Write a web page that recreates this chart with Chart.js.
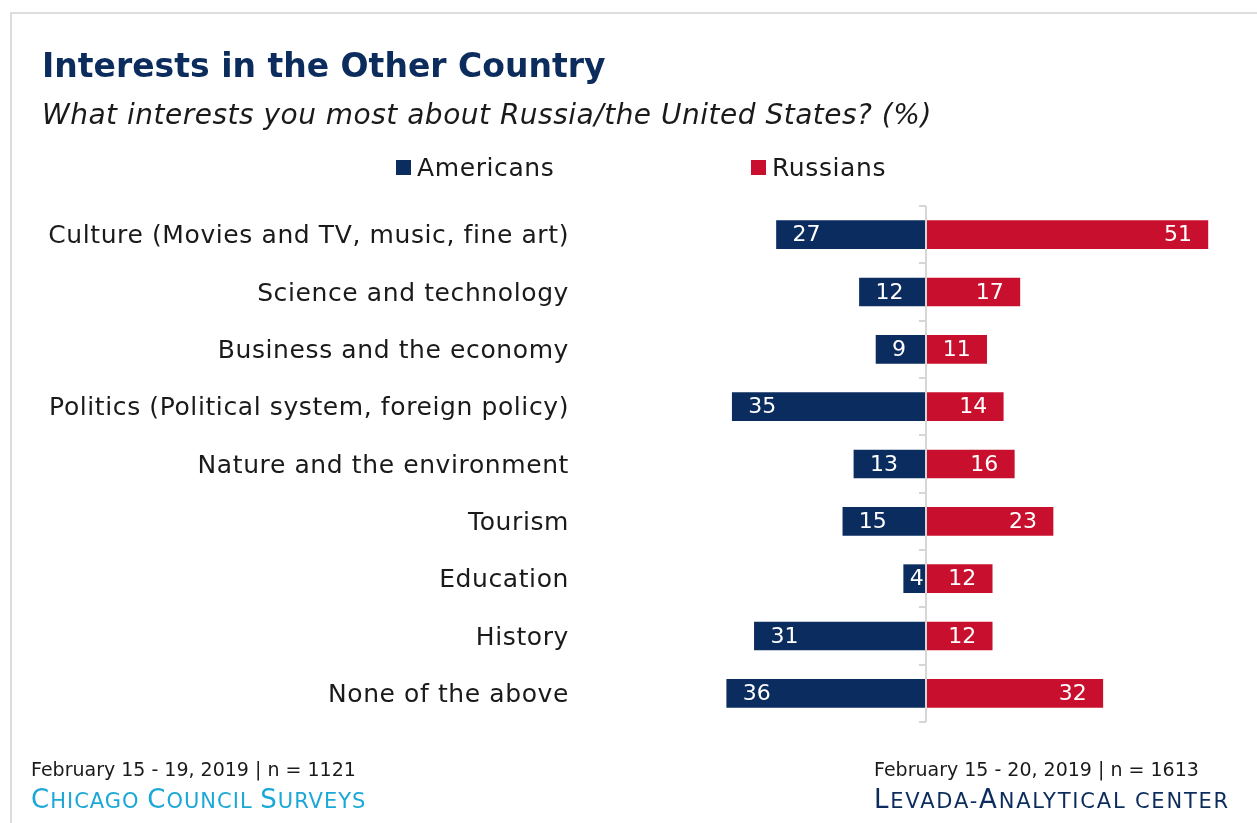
<!DOCTYPE html>
<html>
<head>
<meta charset="utf-8">
<script src="https://cdn.jsdelivr.net/npm/chart.js@4.4.1/dist/chart.umd.min.js"></script>
<style>
  html, body { margin: 0; padding: 0; background: #fff; }
  body { width: 1257px; height: 823px; position: relative; overflow: hidden; font-family: "DejaVu Sans", sans-serif; }
  #frame { position: absolute; left: 10px; top: 12px; width: 1260px; height: 820px; border-top: 2px solid #dddddd; border-left: 2px solid #dddddd; }
  #chartWrap { position: absolute; left: 0; top: 0; width: 1257px; height: 823px; }
  .txt { position: absolute; white-space: nowrap; line-height: 1; }
  #title { left: 42px; top: 49px; font-size: 33px; font-weight: bold; color: #0b2c5c; }
  #subtitle { left: 42px; top: 101px; font-size: 28px; font-style: italic; letter-spacing: 0.5px; color: #1a1a1a; }
  .legend { top: 155px; font-size: 25px; letter-spacing: 0.6px; color: #1a1a1a; }
  .legend i { display: inline-block; width: 15px; height: 15px; margin-right: 6px; vertical-align: 1px; }
  .date { top: 760px; font-size: 19px; color: #1a1a1a; }
  .src { top: 786px; font-size: 26px; letter-spacing: 1px; }
  .src span { font-size: 21px; }
</style>
</head>
<body>
<div id="frame"></div>
<div id="chartWrap"><canvas id="interestChart"></canvas></div>
<div class="txt" id="title">Interests in the Other Country</div>
<div class="txt" id="subtitle">What interests you most about Russia/the United States? (%)</div>
<div class="txt legend" style="left:396px"><i style="background:#0a2c5e"></i>Americans</div>
<div class="txt legend" style="left:751px"><i style="background:#c8102e"></i>Russians</div>
<div class="txt date" style="left:31px">February 15 - 19, 2019 | n = 1121</div>
<div class="txt src" style="left:31px; color:#1aa8d8">C<span>HICAGO </span>C<span>OUNCIL </span>S<span>URVEYS</span></div>
<div class="txt date" style="left:874px">February 15 - 20, 2019 | n = 1613</div>
<div class="txt src" style="left:874px; color:#0b2c5c; letter-spacing:1.8px">L<span>EVADA-</span>A<span>NALYTICAL CENTER</span></div>
<script>
const categories = [
    'Culture (Movies and TV, music, fine art)',
    'Science and technology',
    'Business and the economy',
    'Politics (Political system, foreign policy)',
    'Nature and the environment',
    'Tourism',
    'Education',
    'History',
    'None of the above'
];
const americans = [27, 12, 9, 35, 13, 15, 4, 31, 36];
const russians = [51, 17, 11, 14, 16, 23, 12, 12, 32];

const NAVY = '#0a2c5e';
const RED = '#c8102e';

// a bit of tracking for the wide category labels
const spacingPlugin = {
    id: 'spacing',
    beforeDraw(chart) { chart.ctx.letterSpacing = '0.6px'; },
    afterDraw(chart) { chart.ctx.letterSpacing = '0px'; }
};

// center line + little ticks between rows
const axisLinePlugin = {
    id: 'axisLine',
    afterDatasetsDraw(chart) {
        const {ctx, chartArea, scales} = chart;
        const x0 = Math.round(scales.x.getPixelForValue(0));
        const n = categories.length;
        const step = (chartArea.bottom - chartArea.top) / n;
        ctx.save();
        ctx.strokeStyle = '#d6d6d6';
        ctx.lineWidth = 2;
        ctx.beginPath();
        ctx.moveTo(x0, chartArea.top);
        ctx.lineTo(x0, chartArea.bottom);
        for (let i = 0; i <= n; i++) {
            const y = Math.round(chartArea.top + i * step);
            ctx.moveTo(x0 - 7, y);
            ctx.lineTo(x0, y);
        }
        ctx.stroke();
        ctx.restore();
    }
};

// white numbers inside the bars, near the outer end
const barLabelPlugin = {
    id: 'barLabels',
    afterDatasetsDraw(chart) {
        const {ctx, scales} = chart;
        const zero = scales.x.getPixelForValue(0);
        ctx.save();
        ctx.letterSpacing = '0px';
        ctx.font = '22px "DejaVu Sans"';
        ctx.fillStyle = '#ffffff';
        ctx.textBaseline = 'middle';
        ctx.textAlign = 'left';
        chart.data.datasets.forEach((ds, i) => {
            chart.getDatasetMeta(i).data.forEach((bar, j) => {
                const v = ds.data[j];
                const text = String(Math.abs(v));
                const w = ctx.measureText(text).width;
                let left;
                if (v < 0) {
                    left = Math.min(bar.x + 16, zero - 2 - w);
                } else {
                    left = Math.max(bar.x - 16 - w, zero + 2);
                }
                ctx.fillText(text, left, bar.y + 1);
            });
        });
        ctx.restore();
    }
};

const chart = new Chart(document.getElementById('interestChart'), {
    type: 'bar',
    plugins: [spacingPlugin, axisLinePlugin, barLabelPlugin],
    data: {
        labels: categories,
        datasets: [
            {
                label: 'Americans',
                data: americans.map(v => -v),
                backgroundColor: NAVY,
                barThickness: 28
            },
            {
                label: 'Russians',
                data: russians,
                backgroundColor: RED,
                barThickness: 28
            }
        ]
    },
    options: {
        indexAxis: 'y',
        responsive: true,
        maintainAspectRatio: false,
        animation: false,
        layout: {
            padding: { left: 0, right: 27, top: 206, bottom: 101 }
        },
        plugins: {
            legend: { display: false },
            tooltip: { enabled: false }
        },
        scales: {
            x: {
                stacked: true,
                min: -60,
                max: 55,
                display: false
            },
            y: {
                stacked: true,
                grid: { display: false, drawTicks: false },
                border: { display: false },
                ticks: {
                    color: '#1a1a1a',
                    padding: 25,
                    labelOffset: 2,
                    font: { family: '"DejaVu Sans"', size: 25 }
                },
                afterFit(scale) {
                    scale.width = 594;
                }
            }
        }
    }
});
</script>
</body>
</html>
